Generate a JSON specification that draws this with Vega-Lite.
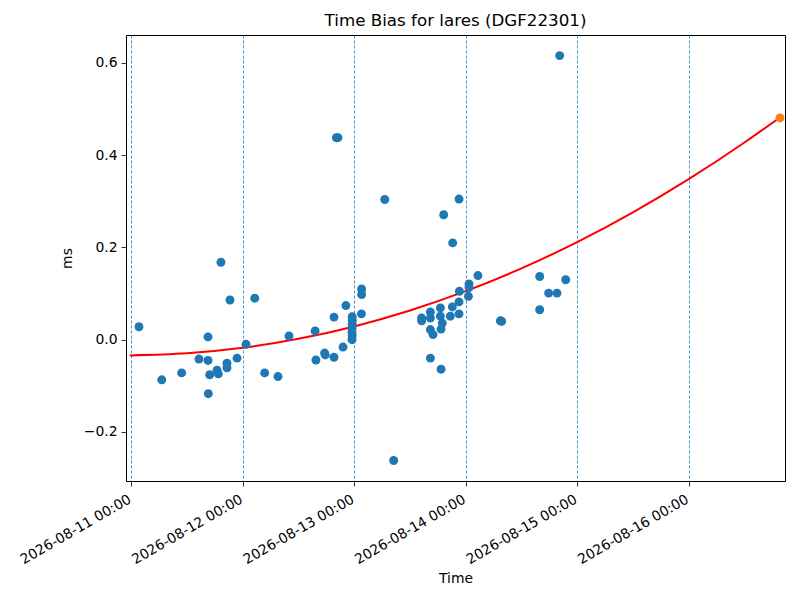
{
  "$schema": "https://vega.github.io/schema/vega-lite/v6.json",
  "width": 659,
  "height": 446,
  "autosize": {"type": "none"},
  "padding": {"left": 126, "top": 35, "right": 15, "bottom": 119},
  "background": "white",
  "title": {"text": "Time Bias for lares (DGF22301)", "font": "DejaVu Sans", "fontSize": 16.7, "fontWeight": "normal", "color": "black", "offset": 5},
  "config": {
    "view": {"stroke": "black", "strokeWidth": 1},
    "axis": {"domain": false, "labelFont": "DejaVu Sans", "labelFontSize": 13.9, "labelColor": "black", "titleFont": "DejaVu Sans", "titleFontSize": 13.9, "titleFontWeight": "normal", "titleColor": "black", "tickColor": "black", "tickSize": 5, "tickWidth": 0.8}
  },
  "datasets": {
    "pts": [
      {"time": "2026-08-11T01:41:00", "ms": 0.028},
      {"time": "2026-08-11T06:35:00", "ms": -0.087},
      {"time": "2026-08-11T10:52:00", "ms": -0.072},
      {"time": "2026-08-11T14:35:00", "ms": -0.042},
      {"time": "2026-08-11T16:32:00", "ms": 0.006},
      {"time": "2026-08-11T16:32:00", "ms": -0.045},
      {"time": "2026-08-11T16:36:00", "ms": -0.117},
      {"time": "2026-08-11T16:54:00", "ms": -0.076},
      {"time": "2026-08-11T18:29:00", "ms": -0.066},
      {"time": "2026-08-11T18:46:00", "ms": -0.074},
      {"time": "2026-08-11T19:19:00", "ms": 0.168},
      {"time": "2026-08-11T20:37:00", "ms": -0.051},
      {"time": "2026-08-11T20:37:00", "ms": -0.061},
      {"time": "2026-08-11T21:16:00", "ms": 0.086},
      {"time": "2026-08-11T22:47:00", "ms": -0.040},
      {"time": "2026-08-12T00:43:00", "ms": -0.010},
      {"time": "2026-08-12T02:36:00", "ms": 0.090},
      {"time": "2026-08-12T04:44:00", "ms": -0.072},
      {"time": "2026-08-12T07:36:00", "ms": -0.080},
      {"time": "2026-08-12T09:58:00", "ms": 0.008},
      {"time": "2026-08-12T15:35:00", "ms": 0.019},
      {"time": "2026-08-12T15:46:00", "ms": -0.044},
      {"time": "2026-08-12T17:38:00", "ms": -0.029},
      {"time": "2026-08-12T17:47:00", "ms": -0.033},
      {"time": "2026-08-12T19:39:00", "ms": -0.038},
      {"time": "2026-08-12T19:39:00", "ms": 0.049},
      {"time": "2026-08-12T20:10:00", "ms": 0.438},
      {"time": "2026-08-12T20:30:00", "ms": 0.438},
      {"time": "2026-08-12T21:36:00", "ms": -0.016},
      {"time": "2026-08-12T22:13:00", "ms": 0.074},
      {"time": "2026-08-12T23:34:00", "ms": 0.050},
      {"time": "2026-08-12T23:36:00", "ms": 0.042},
      {"time": "2026-08-12T23:34:00", "ms": 0.033},
      {"time": "2026-08-12T23:32:00", "ms": 0.025},
      {"time": "2026-08-12T23:32:00", "ms": 0.016},
      {"time": "2026-08-12T23:34:00", "ms": 0.009},
      {"time": "2026-08-12T23:32:00", "ms": 0.000},
      {"time": "2026-08-13T01:34:00", "ms": 0.056},
      {"time": "2026-08-13T01:36:00", "ms": 0.098},
      {"time": "2026-08-13T01:36:00", "ms": 0.110},
      {"time": "2026-08-13T06:35:00", "ms": 0.304},
      {"time": "2026-08-13T08:30:00", "ms": -0.262},
      {"time": "2026-08-13T14:31:00", "ms": 0.041},
      {"time": "2026-08-13T14:31:00", "ms": 0.047},
      {"time": "2026-08-13T16:24:00", "ms": 0.060},
      {"time": "2026-08-13T16:24:00", "ms": 0.047},
      {"time": "2026-08-13T16:24:00", "ms": 0.022},
      {"time": "2026-08-13T16:58:00", "ms": 0.011},
      {"time": "2026-08-13T16:24:00", "ms": -0.040},
      {"time": "2026-08-13T18:33:00", "ms": 0.069},
      {"time": "2026-08-13T18:33:00", "ms": 0.051},
      {"time": "2026-08-13T18:58:00", "ms": 0.036},
      {"time": "2026-08-13T18:42:00", "ms": 0.023},
      {"time": "2026-08-13T18:42:00", "ms": -0.064},
      {"time": "2026-08-13T19:16:00", "ms": 0.271},
      {"time": "2026-08-13T20:42:00", "ms": 0.051},
      {"time": "2026-08-13T21:08:00", "ms": 0.071},
      {"time": "2026-08-13T21:12:00", "ms": 0.210},
      {"time": "2026-08-13T22:34:00", "ms": 0.082},
      {"time": "2026-08-13T22:34:00", "ms": 0.056},
      {"time": "2026-08-13T22:39:00", "ms": 0.105},
      {"time": "2026-08-13T22:34:00", "ms": 0.305},
      {"time": "2026-08-14T00:43:00", "ms": 0.121},
      {"time": "2026-08-14T00:43:00", "ms": 0.113},
      {"time": "2026-08-14T00:35:00", "ms": 0.094},
      {"time": "2026-08-14T02:38:00", "ms": 0.139},
      {"time": "2026-08-14T07:28:00", "ms": 0.041},
      {"time": "2026-08-14T07:44:00", "ms": 0.040},
      {"time": "2026-08-14T15:56:00", "ms": 0.137},
      {"time": "2026-08-14T15:56:00", "ms": 0.065},
      {"time": "2026-08-14T17:51:00", "ms": 0.101},
      {"time": "2026-08-14T19:39:00", "ms": 0.101},
      {"time": "2026-08-14T20:14:00", "ms": 0.616},
      {"time": "2026-08-14T21:32:00", "ms": 0.130}
    ],
    "fit": [
      {"time": "2026-08-10T23:41:00", "ms": -0.034},
      {"time": "2026-08-11T12:00:00", "ms": -0.0296},
      {"time": "2026-08-12T00:00:00", "ms": -0.0176},
      {"time": "2026-08-12T12:00:00", "ms": 0.0019},
      {"time": "2026-08-13T00:00:00", "ms": 0.0288},
      {"time": "2026-08-13T12:00:00", "ms": 0.0633},
      {"time": "2026-08-14T00:00:00", "ms": 0.1052},
      {"time": "2026-08-14T12:00:00", "ms": 0.1547},
      {"time": "2026-08-15T00:00:00", "ms": 0.2116},
      {"time": "2026-08-15T12:00:00", "ms": 0.2761},
      {"time": "2026-08-16T00:00:00", "ms": 0.348},
      {"time": "2026-08-16T12:00:00", "ms": 0.4275},
      {"time": "2026-08-16T19:39:00", "ms": 0.482}
    ],
    "next": [
      {"time": "2026-08-16T19:39:00", "ms": 0.481}
    ]
  },
  "encoding": {
    "x": {
      "field": "time", "type": "temporal",
      "scale": {"domain": [{"year": 2026, "month": 8, "date": 10, "hours": 22, "minutes": 53}, {"year": 2026, "month": 8, "date": 16, "hours": 20, "minutes": 44}]},
      "axis": {"title": "Time", "format": "%Y-%m-%d %H:%M", "tickCount": {"interval": "day", "step": 1}, "labelAngle": -30, "labelAlign": "right", "labelBaseline": "top", "labelOffset": -5, "labelPadding": 6, "grid": true, "gridColor": "#1f77b4", "gridDash": [3, 2], "gridWidth": 0.8, "titlePadding": 5, "labelFlush": false, "labelOverlap": false}
    },
    "y": {
      "field": "ms", "type": "quantitative",
      "scale": {"domain": [-0.3064, 0.6607], "nice": false, "zero": false},
      "axis": {"title": "ms", "values": [-0.2, 0, 0.2, 0.4, 0.6], "format": ".1f", "grid": false, "labelPadding": 4, "titlePadding": 9}
    }
  },
  "layer": [
    {"mark": {"type": "rule", "color": "black", "strokeWidth": 0.8}, "encoding": {"x": null, "y": {"datum": 0}}, "data": {"values": [{}]}},
    {"data": {"name": "fit"}, "mark": {"type": "line", "color": "red", "strokeWidth": 2, "interpolate": "monotone"}},
    {"data": {"name": "pts"}, "mark": {"type": "circle", "color": "#1f77b4", "size": 80, "opacity": 1}},
    {"data": {"name": "next"}, "mark": {"type": "circle", "color": "#ff7f0e", "size": 80, "opacity": 1}}
  ]
}
